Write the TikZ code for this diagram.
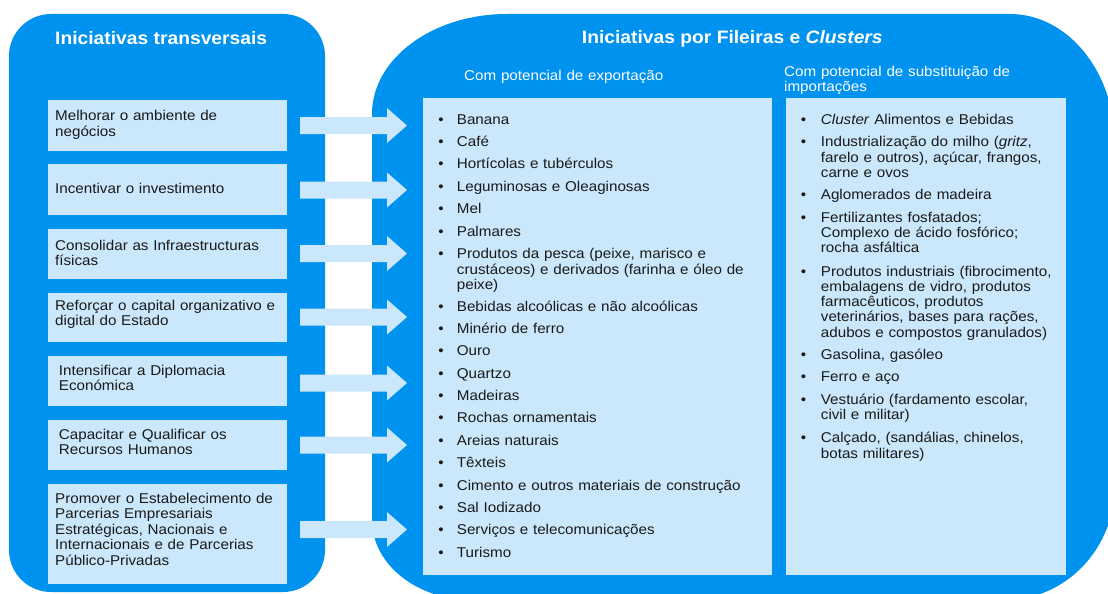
\documentclass[tikz,border=0pt]{standalone}
\usepackage{fontspec}
\setmainfont{Liberation Sans}[FakeStretch=1.07]
\definecolor{panel}{HTML}{0092EF}
\definecolor{lite}{HTML}{CAE7FB}
\definecolor{ink}{HTML}{1A1A1A}
\begin{document}
\begin{tikzpicture}[x=1pt,y=-1pt,
  boxtxt/.style={anchor=base west, inner sep=0pt, text=ink, font=\fontsize{14.2}{15.5}\selectfont, align=left, text width=300pt},
  ltxt/.style={boxtxt, font=\fontsize{14.2}{15.6}\selectfont},
  rtxt/.style={boxtxt, font=\fontsize{14.2}{15.3}\selectfont},
  bul/.style={anchor=base, inner sep=0pt, text=ink, font=\fontsize{14.2}{15.5}\selectfont},
  title/.style={anchor=base west, inner sep=0pt, text=white, font=\fontsize{18}{20}\selectfont\bfseries},
  sub/.style={anchor=base west, inner sep=0pt, text=white, font=\fontsize{14.2}{15}\selectfont, align=left, text width=300pt},
  litebox/.style={fill=lite, draw=none, inner sep=0pt},
  arrowfill/.style={fill=lite}
]
\useasboundingbox (0,0) rectangle (1108,594);
\clip (0,0) rectangle (1108,594);

% panels
\fill[panel, rounded corners=42pt] (9,14) rectangle (325,592);
\fill[panel] (507,14) -- (1010,14)
  .. controls (1068,14) and (1115,72.2) .. (1115,144)
  -- (1115,485)
  .. controls (1115,548.5) and (1065.8,600) .. (1005,600)
  -- (472,600)
  .. controls (416.8,600) and (372,564.2) .. (372,520)
  -- (372,114)
  .. controls (372,58.8) and (432.4,14) .. (507,14) -- cycle;

% titles
\node[title] (tl) at (55,44.3) {Iniciativas transversais};
\node[title] (tr) at (581.7,43.3) {Iniciativas por Fileiras e \textit{Clusters}};
\node[sub] (sx) at (464,81) {Com potencial de exportação};
\node[sub, font=\fontsize{14.2}{15}\selectfont] (si) at (784,76.7) {Com potencial de substituição de\\importações};

% left boxes
\fill[litebox] (48,100) rectangle (287,151) coordinate (b1);
\fill[litebox] (48,164) rectangle (287,215) coordinate (b2);
\fill[litebox] (48,229) rectangle (287,279) coordinate (b3);
\fill[litebox] (48,293) rectangle (287,342) coordinate (b4);
\fill[litebox] (48,356) rectangle (287,406) coordinate (b5);
\fill[litebox] (48,420) rectangle (287,470) coordinate (b6);
\fill[litebox] (48,484) rectangle (287,584) coordinate (b7);

\node[boxtxt] (t1) at (55,120.7) {Melhorar o ambiente de\\negócios};
\node[boxtxt] (t2) at (55,193.3) {Incentivar o investimento};
\node[boxtxt] (t3) at (55,250) {Consolidar as Infraestructuras\\físicas};
\node[boxtxt] (t4) at (55,310) {Reforçar o capital organizativo e\\digital do Estado};
\node[boxtxt] (t5) at (58.7,375) {Intensificar a Diplomacia\\Económica};
\node[boxtxt] (t6) at (58.7,439.3) {Capacitar e Qualificar os\\Recursos Humanos};
\node[boxtxt] (t7) at (55,503.3) {Promover o Estabelecimento de\\Parcerias Empresariais\\Estratégicas, Nacionais e\\Internacionais e de Parcerias\\Público-Privadas};

% right boxes
\fill[litebox] (423,98) rectangle (772,575) coordinate (ex);
\fill[litebox] (786,98) rectangle (1066,575) coordinate (im);

% arrows
\foreach \y [count=\i] in {125.5,190,253.5,317,383,445,529.5} {
  \fill[arrowfill] (300,\y-8.5) -- (387,\y-8.5) -- (387,\y-17.5) -- (407,\y)
    -- (387,\y+17.5) -- (387,\y+8.5) -- (300,\y+8.5) -- cycle;
}

% export list
\foreach \y [count=\i] in {124,146.4,168.8,191.2,213.6,236,258.4,311,333.3,355.7,378,400.4,422.8,445.2,467.6,490,512.4,534.8,557.2} {
  \node[bul] (eb\i) at (441,\y) {•};
}
\node[ltxt] (e1) at (456.7,124) {Banana};
\node[ltxt] (e2) at (456.7,146.4) {Café};
\node[ltxt] (e3) at (456.7,168.8) {Hortícolas e tubérculos};
\node[ltxt] (e4) at (456.7,191.2) {Leguminosas e Oleaginosas};
\node[ltxt] (e5) at (456.7,213.6) {Mel};
\node[ltxt] (e6) at (456.7,236) {Palmares};
\node[ltxt] (e7) at (456.7,258.4) {Produtos da pesca (peixe, marisco e\\crustáceos) e derivados (farinha e óleo de\\peixe)};
\node[ltxt] (e8) at (456.7,311) {Bebidas alcoólicas e não alcoólicas};
\node[ltxt] (e9) at (456.7,333.3) {Minério de ferro};
\node[ltxt] (e10) at (456.7,355.7) {Ouro};
\node[ltxt] (e11) at (456.7,378) {Quartzo};
\node[ltxt] (e12) at (456.7,400.4) {Madeiras};
\node[ltxt] (e13) at (456.7,422.8) {Rochas ornamentais};
\node[ltxt] (e14) at (456.7,445.2) {Areias naturais};
\node[ltxt] (e15) at (456.7,467.6) {Têxteis};
\node[ltxt] (e16) at (456.7,490) {Cimento e outros materiais de construção};
\node[ltxt] (e17) at (456.7,512.4) {Sal Iodizado};
\node[ltxt] (e18) at (456.7,534.8) {Serviços e telecomunicações};
\node[ltxt] (e19) at (456.7,557.2) {Turismo};

% import list
\foreach \y [count=\i] in {124,146.7,199.3,222.3,276,359.3,381.7,404,442.7} {
  \node[bul] (ib\i) at (803.5,\y) {•};
}
\node[rtxt] (i1) at (820.7,124) {\textit{Cluster} Alimentos e Bebidas};
\node[rtxt] (i2) at (820.7,146.7) {Industrialização do milho (\textit{gritz},\\farelo e outros), açúcar, frangos,\\carne e ovos};
\node[rtxt] (i3) at (820.7,199.3) {Aglomerados de madeira};
\node[rtxt] (i4) at (820.7,222.3) {Fertilizantes fosfatados;\\Complexo de ácido fosfórico;\\rocha asfáltica};
\node[rtxt] (i5) at (820.7,276) {Produtos industriais (fibrocimento,\\embalagens de vidro, produtos\\farmacêuticos, produtos\\veterinários, bases para rações,\\adubos e compostos granulados)};
\node[rtxt] (i6) at (820.7,359.3) {Gasolina, gasóleo};
\node[rtxt] (i7) at (820.7,381.7) {Ferro e aço};
\node[rtxt] (i8) at (820.7,404) {Vestuário (fardamento escolar,\\civil e militar)};
\node[rtxt] (i9) at (820.7,442.7) {Calçado, (sandálias, chinelos,\\botas militares)};
\end{tikzpicture}
\end{document}
